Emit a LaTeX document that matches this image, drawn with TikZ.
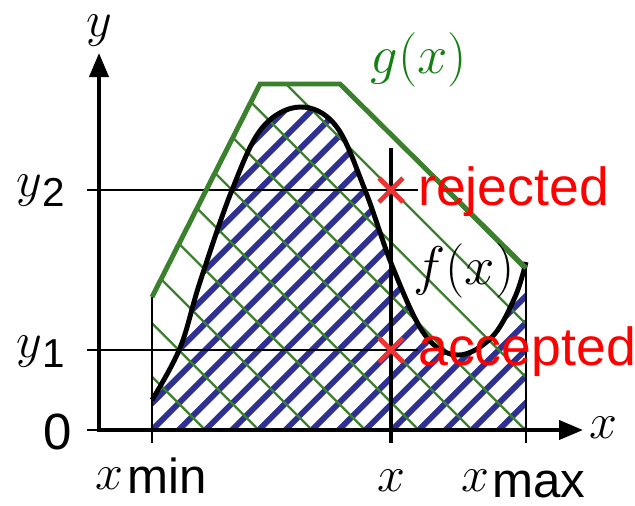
\RequirePackage{fix-cm}
\documentclass[tikz,border=0pt]{standalone}
\usepackage{fontspec}
\setsansfont{Liberation Sans}
\usetikzlibrary{arrows.meta, calc}

\definecolor{gline}{RGB}{58,128,45}
\definecolor{gtext}{RGB}{20,128,20}
\definecolor{hblue}{RGB}{46,49,146}
\definecolor{mred}{RGB}{236,50,50}

% f(x) as a smooth curve through sample points (pixel units)
\def\fcurve{plot[smooth, tension=0.6] coordinates {(152,400) (180,348) (200,282) (232,190) (262,128) (300,107) (336,126) (365,190) (393,268) (425,335) (458,355) (492,337) (515,297) (526,262)}}

\begin{document}
\begin{tikzpicture}[x=0.02cm, y=-0.02cm,
  axis/.style={line width=2.3pt, -{Triangle[length=0.48cm, width=0.38cm]}},
  guide/.style={line width=1.1pt},
  hatchg/.style={gline, line width=1.3pt},
  hatchb/.style={hblue, line width=3.3pt},
  crossmk/.style={mred, line width=2.8pt},
  lab/.style={font=\fontsize{28.5}{30}\selectfont, inner sep=0pt},
  funlab/.style={font=\fontsize{31}{32}\selectfont, inner sep=0pt},
  sublab/.style={font=\fontsize{28.5}{30}\selectfont, inner sep=0pt, anchor=base west},
  verdict/.style={font=\fontsize{30.5}{32}\selectfont\sffamily, text=red, inner sep=0pt, anchor=base west}
]
\useasboundingbox (0,0) rectangle (635,505);

% hatching under f(x)
\begin{scope}
  \clip \fcurve -- (526,430) -- (152,430) -- cycle;
  \foreach \k in {-14,...,15}
    \draw[hatchb] ({152+26.67*\k-100},530) -- ++(520,-520);
\end{scope}

% hatching under g(x)
\begin{scope}
  \clip (152,430) -- (152,297) -- (260,84) -- (340,84) -- (526,268) -- (526,430) -- cycle;
  \foreach \k in {-2,...,18}
    \draw[hatchg] ({152+53.33*\k+100},530) -- ++(-520,-520);
\end{scope}

% guide lines and ticks
\coordinate (y2l) at (87,190);
\coordinate (y2r) at (418,190);
\coordinate (y1l) at (87,350);
\coordinate (y1r) at (418,350);
\draw[guide] (y2l) -- (y2r);
\draw[guide] (y1l) -- (y1r);
\draw[guide] (87,430) -- (99,430);
\draw[guide] (152,297) -- (152,443);
\draw[guide] (526,268) -- (526,443);
\draw[line width=2pt] (391,148) -- (391,443);

% axes
\draw[axis] (99,430) -- (583,430);
\draw[axis] (99,432) -- (99,53);

% curves
\draw[line width=2.8pt] \fcurve;
\draw[gline, line width=2.8pt] (152,297) -- (260,84) -- (340,84) -- (526,268);

% sampled points
\coordinate (rej) at (391,190);
\coordinate (acc) at (391,350);
\draw[crossmk] ($(rej)+(-12,-12)$) -- ($(rej)+(12,12)$) ($(rej)+(-12,12)$) -- ($(rej)+(12,-12)$);
\draw[crossmk] ($(acc)+(-12,-12)$) -- ($(acc)+(12,12)$) ($(acc)+(-12,12)$) -- ($(acc)+(12,-12)$);

% labels
\node[lab] (ylab) at (99,31) {$y$};
\node[lab] (xlab) at (603,428) {$x$};
\node[lab, font=\fontsize{29}{30}\selectfont\sffamily] (zero) at (58,432) {0};
\node[sublab] (y2lab) at (16,196) {$y$\raisebox{-0.2cm}{\fontsize{23}{24}\selectfont\sffamily 2}};
\node[sublab] (y1lab) at (16,357) {$y$\raisebox{-0.2cm}{\fontsize{23}{24}\selectfont\sffamily 1}};
\node[sublab] (xminlab) at (95,489) {$x$\kern0.08cm\raisebox{-0.08cm}{\fontsize{28}{29}\selectfont\sffamily min}};
\node[sublab] (xlab2) at (377,491) {$x$};
\node[sublab] (xmaxlab) at (461,491) {$x$\kern0.06cm\raisebox{-0.12cm}{\fontsize{28}{29}\selectfont\sffamily max}};
\node[funlab, text=gtext] (glab) at (419,60) {$g(x)$};
\node[funlab] (flab) at (464,271) {$f(x)$};
\node[verdict] (rejtxt) at (418,205) {rejected};
\node[verdict] (acctxt) at (418,365) {accepted};
\end{tikzpicture}
\end{document}
